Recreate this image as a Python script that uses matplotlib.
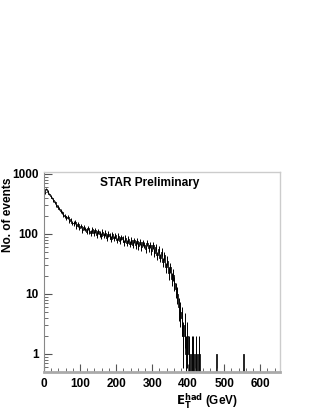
import matplotlib
matplotlib.use("Agg")
import matplotlib.pyplot as plt
import numpy as np
from matplotlib.ticker import FixedLocator, MultipleLocator, LogLocator, NullFormatter

plt.rcParams["font.family"] = ["Liberation Sans", "DejaVu Sans"]

# E_T^had histogram, 4 GeV bins starting at 0 GeV
BIN_W = 4
counts_main = [
    480, 560, 510, 465, 420, 395, 360, 335, 300, 285,
    262, 240, 228, 205, 200, 182, 190, 166, 174, 152,
    150, 160, 134, 144, 126, 136, 116, 128, 121, 108,
    126, 110, 104, 120, 102, 114, 96, 110, 100, 92,
    108, 94, 104, 86, 100, 92, 82, 98, 84, 94,
    78, 92, 76, 88, 82, 72, 86, 70, 82, 68,
    80, 66, 78, 64, 76, 62, 74, 60, 72, 66,
    56, 70, 58, 66, 52, 64, 48, 60, 44, 56,
    40, 50, 34, 44, 28, 36, 22, 28, 18, 21,
    15, 12, 10, 6, 5, 4, 2, 3, 1, 2,
    1, 0, 1, 1, 0, 1, 0, 1, 0, 0,
]
# isolated single events far in the tail (bin low edges, GeV)
tail_x = [476, 552]
tail_n = [1, 1]

n_bins = 164
counts = np.zeros(n_bins)
counts[:len(counts_main)] = counts_main
edges = np.arange(n_bins + 1) * BIN_W
centers = edges[:-1] + BIN_W / 2
for x, n in zip(tail_x, tail_n):
    counts[x // BIN_W] = n
plot_vals = np.where(counts > 0, counts, 0.05)

fig = plt.figure(figsize=(3.19, 4.12), dpi=100)
ax = fig.add_axes([0.138, 0.097, 0.740, 0.486])
ax.stairs(plot_vals, edges, baseline=0.05, color="black", lw=0.6)

# statistical error bars for the main part of the spectrum
main_n = np.array(counts_main, dtype=float)
main_c = centers[:len(counts_main)]
has = main_n > 0
err = np.sqrt(main_n[has])
lo = np.maximum(main_n[has] - err, 0.05)
hi = main_n[has] + err
ax.vlines(main_c[has], lo, hi, color="black", lw=0.7)

ax.set_yscale("log")
ax.set_xlim(0, 655)
ax.set_ylim(0.5, 1080)

ax.xaxis.set_major_locator(FixedLocator([0, 100, 200, 300, 400, 500, 600]))
ax.xaxis.set_minor_locator(MultipleLocator(20))
ax.yaxis.set_major_locator(FixedLocator([1, 10, 100, 1000]))
ax.yaxis.set_minor_locator(LogLocator(base=10, subs=np.arange(2, 10)))
ax.yaxis.set_minor_formatter(NullFormatter())
ax.set_yticklabels(["1", "10", "100", "1000"])

ax.tick_params(which="both", direction="in", top=False, right=False, color="#555555",
               labelsize=8.5)
ax.tick_params(which="major", length=6, width=0.8)
ax.tick_params(which="minor", length=3, width=0.6)
ax.tick_params(axis="y", pad=4)
ax.tick_params(axis="x", pad=4)
for lab in ax.get_xticklabels() + ax.get_yticklabels():
    lab.set_fontweight("bold")

ax.spines["left"].set_color("#888888")
ax.spines["left"].set_linewidth(0.8)
ax.spines["bottom"].set_color("#aaaaaa")
ax.spines["bottom"].set_linewidth(2)
for s in ["top", "right"]:
    ax.spines[s].set_color("#cccccc")
    ax.spines[s].set_linewidth(1)

ax.text(155, 700, "STAR Preliminary", fontsize=8.6, fontweight="bold", va="center")
fig.text(0.025, 0.568, "No. of events", rotation=90, fontsize=8.6, fontweight="bold",
         ha="center", va="top")
fig.text(0.65, 0.026, r"$\mathbf{E_T^{had}}$ (GeV)", fontsize=8.5, fontweight="bold",
         ha="center", va="center")

fig.savefig("out.png", dpi=100)
